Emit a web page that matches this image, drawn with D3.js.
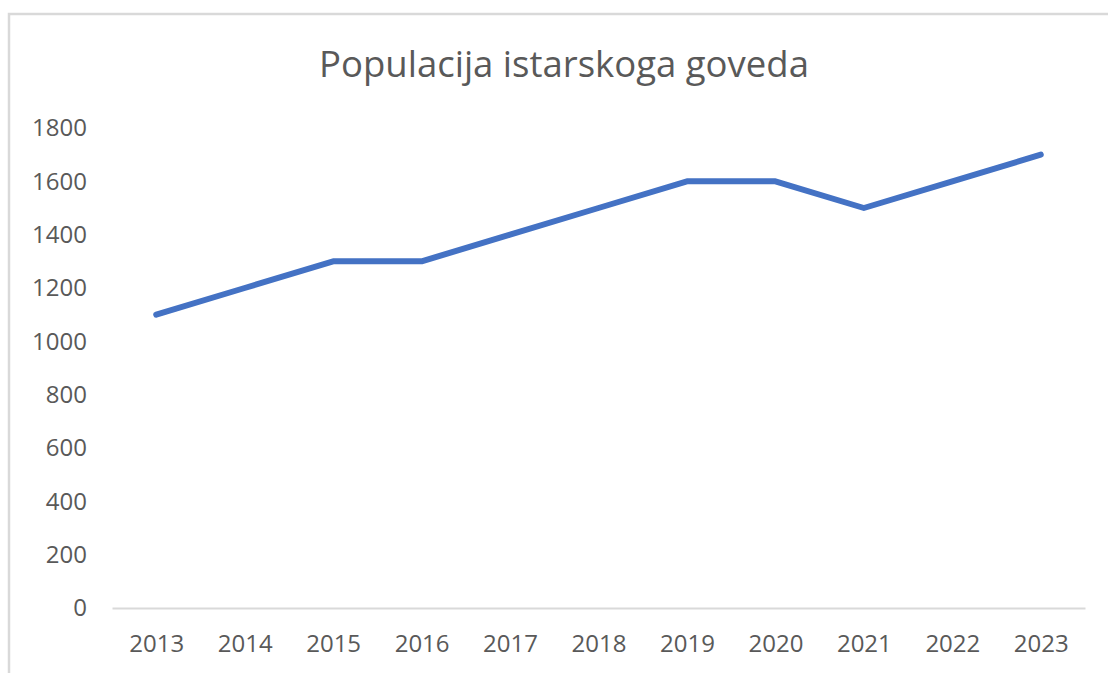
<!DOCTYPE html>
<html>
<head>
<meta charset="utf-8">
<script src="https://cdn.jsdelivr.net/npm/d3@7"></script>
<style>
    body { margin: 0; background: #fff; }
    svg { display: block; }
    text { font-family: "Open Sans", sans-serif; fill: #595959; }
</style>
</head>
<body>
<svg id="chart" width="1108" height="673"></svg>
<script>
const years = ["2013","2014","2015","2016","2017","2018","2019","2020","2021","2022","2023"]
const population = [1100,1200,1300,1300,1400,1500,1600,1600,1500,1600,1700]
const yTicks = [0,200,400,600,800,1000,1200,1400,1600,1800]
const title = "Populacija istarskoga goveda"

const svg = d3.select('#chart')

// okvir grafikona (desni i donji rub su izvan slike)
svg.append('rect')
    .attr('x', 9).attr('y', 14)
    .attr('width', 1120).attr('height', 680)
    .attr('fill', 'none')
    .attr('stroke', '#d9d9d9')
    .attr('stroke-width', 2.5)

const x = d3.scalePoint()
    .domain(years)
    .range([112, 1085])
    .padding(0.5)

const y = d3.scaleLinear()
    .domain([0, 1800])
    .range([608, 128])

svg.append('text')
    .attr('x', 564)
    .attr('y', 77)
    .attr('text-anchor', 'middle')
    .attr('font-size', 36.5)
    .text(title)

const yAxis = svg.append('g')
    .attr('transform', 'translate(92,0)')
    .call(d3.axisLeft(y).tickValues(yTicks).tickFormat(d3.format('d')).tickSize(0).tickPadding(5))
yAxis.select('.domain').remove()
yAxis.selectAll('text')
    .attr('font-size', 24)
    .attr('font-family', '"Open Sans", sans-serif')
    .attr('fill', '#595959')

const xAxis = svg.append('g')
    .attr('transform', 'translate(0,608)')
    .call(d3.axisBottom(x).tickSize(0).tickSizeOuter(0).tickPadding(27))
xAxis.select('.domain')
    .attr('stroke', '#d9d9d9')
    .attr('stroke-width', 2)
xAxis.selectAll('text')
    .attr('font-size', 24)
    .attr('font-family', '"Open Sans", sans-serif')
    .attr('fill', '#595959')

const line = d3.line()
    .x(function(d, i){ return x(years[i]) })
    .y(function(d){ return y(d) })

svg.append('path')
    .datum(population)
    .attr('d', line)
    .attr('fill', 'none')
    .attr('stroke', '#4472c4')
    .attr('stroke-width', 6)
    .attr('stroke-linejoin', 'round')
    .attr('stroke-linecap', 'round')
</script>
</body>
</html>
